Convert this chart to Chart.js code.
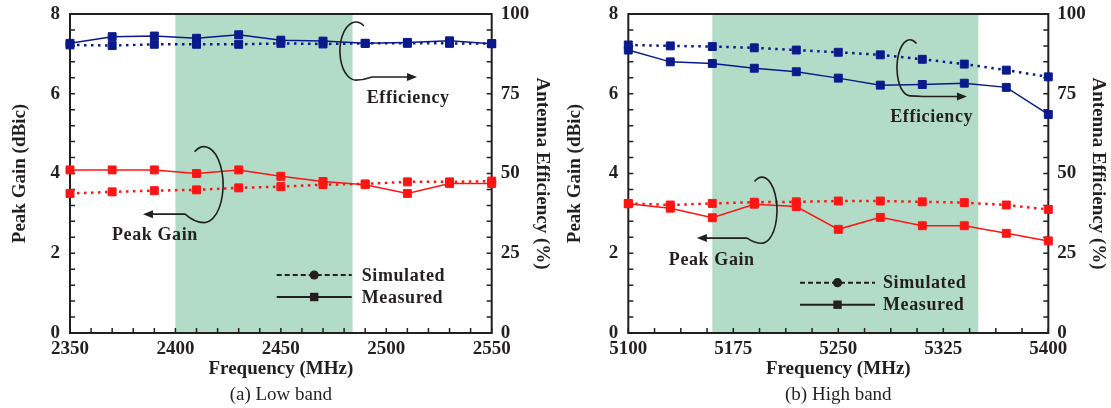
<!DOCTYPE html>
<html>
<head>
<meta charset="utf-8">
<script src="https://cdn.jsdelivr.net/npm/chart.js"></script>
<style>
  body { margin: 0; background: #fff; }
  #wrap { position: relative; width: 1111px; height: 408px; }
  canvas { position: absolute; top: 0; }
</style>
</head>
<body>
<div id="wrap">
  <canvas id="lowBand" width="555" height="408" style="left:0"></canvas>
  <canvas id="highBand" width="556" height="408" style="left:555px"></canvas>
</div>
<script>
// low band, 2350-2550 MHz
const lowFreq = [2350, 2370, 2390, 2410, 2430, 2450, 2470, 2490, 2510, 2530, 2550];
const lowGainSim = [3.50, 3.54, 3.57, 3.59, 3.64, 3.67, 3.72, 3.74, 3.79, 3.79, 3.81];
const lowGainMeas = [4.09, 4.09, 4.09, 4.00, 4.09, 3.93, 3.80, 3.72, 3.50, 3.75, 3.75];
const lowEffSim = [90.3, 90.1, 90.5, 90.5, 90.5, 90.8, 90.6, 90.8, 90.8, 90.8, 90.7];
const lowEffMeas = [90.8, 92.9, 93.1, 92.4, 93.5, 91.8, 91.5, 90.8, 91.1, 91.6, 90.7];
const lowTicks = [2350, 2400, 2450, 2500, 2550];
const lowBandEdges = [2400, 2484];

// high band, 5100-5400 MHz
const highFreq = [5100, 5130, 5160, 5190, 5220, 5250, 5280, 5310, 5340, 5370, 5400];
const highGainSim = [3.25, 3.21, 3.25, 3.28, 3.29, 3.31, 3.31, 3.29, 3.27, 3.21, 3.10];
const highGainMeas = [3.24, 3.13, 2.89, 3.23, 3.17, 2.60, 2.90, 2.69, 2.69, 2.50, 2.31];
const highEffSim = [90.3, 90.0, 89.8, 89.4, 88.7, 88.0, 87.2, 85.8, 84.3, 82.4, 80.3];
const highEffMeas = [88.7, 85.0, 84.5, 83.0, 81.9, 79.9, 77.7, 77.9, 78.3, 77.0, 68.5];
const highTicks = [5100, 5175, 5250, 5325, 5400];
const highBandEdges = [5160, 5350];

const gainTicks = [0, 2, 4, 6, 8];
const effTicks = [0, 25, 50, 75, 100];

const FONT = "'Liberation Serif', 'Times New Roman', serif";
const INK = '#231f20';
const BLUE = '#0a1a8a';
const RED = '#ff1414';
const SHADE = '#b3dcc8';

function series(freq, values) {
  return freq.map((f, i) => ({ x: f, y: values[i] }));
}

function trace(label, data, axis, color, dotted) {
  return {
    label: label,
    data: data,
    yAxisID: axis,
    borderColor: color,
    backgroundColor: color,
    borderWidth: dotted ? 2.5 : 1.5,
    borderDash: dotted ? [2.5, 4.5] : [],
    pointStyle: 'rect',
    pointRadius: 5.6,
    pointBorderWidth: 1,
    pointBackgroundColor: color,
    pointBorderColor: color,
    tension: 0,
    clip: false
  };
}

// green band + box with inward ticks, under the lines
const frame = {
  id: 'frame',
  beforeDatasetsDraw(chart, args, opts) {
    const { ctx, chartArea: a, scales } = chart;
    const x = scales.x, yl = scales.y, yr = scales.y2;
    ctx.save();
    ctx.fillStyle = SHADE;
    const b0 = x.getPixelForValue(opts.band[0]);
    const b1 = x.getPixelForValue(opts.band[1]);
    ctx.fillRect(b0, a.top, b1 - b0, a.bottom - a.top);

    ctx.strokeStyle = INK;
    ctx.lineWidth = 1.5;
    ctx.beginPath();
    for (let v = x.min; v <= x.max + 1e-6; v += opts.xMinor) {
      const px = x.getPixelForValue(v);
      ctx.moveTo(px, a.bottom);
      ctx.lineTo(px, a.bottom - 5);
    }
    for (let v = yl.min; v <= yl.max + 1e-6; v += 0.4) {
      const py = yl.getPixelForValue(v);
      ctx.moveTo(a.left, py);
      ctx.lineTo(a.left + 5, py);
    }
    for (let v = yr.min; v <= yr.max + 1e-6; v += 5) {
      const py = yr.getPixelForValue(v);
      ctx.moveTo(a.right, py);
      ctx.lineTo(a.right - 5, py);
    }
    ctx.stroke();
    ctx.lineWidth = 2;
    ctx.strokeRect(a.left, a.top, a.right - a.left, a.bottom - a.top);
    ctx.restore();
  }
};

function drawHook(ctx, chart, h) {
  const xs = chart.scales.x, ys = chart.scales.y;
  const cx = xs.getPixelForValue(h.x), cy = ys.getPixelForValue(h.y);
  const tx = xs.getPixelForValue(h.tipX), ty = ys.getPixelForValue(h.tipY);
  const d = h.dir;
  ctx.beginPath();
  if (d > 0) ctx.ellipse(cx, cy, h.rx, h.ry, 0, -Math.PI / 3, Math.PI / 2, true);
  else ctx.ellipse(cx, cy, h.rx, h.ry, 0, -2 * Math.PI / 3, Math.PI / 2, false);
  ctx.quadraticCurveTo(cx + d * h.rx * 0.5, cy + h.ry, cx + d * h.rx, ty);
  ctx.lineTo(tx - d * 8, ty);
  ctx.stroke();
  ctx.beginPath();
  ctx.moveTo(tx, ty);
  ctx.lineTo(tx - d * 10, ty - 4);
  ctx.lineTo(tx - d * 10, ty + 4);
  ctx.closePath();
  ctx.fill();
}

// curly arrows, their labels and the line-style key
const notes = {
  id: 'notes',
  afterDraw(chart, args, opts) {
    const { ctx, chartArea: a, scales } = chart;
    ctx.save();
    ctx.strokeStyle = INK;
    ctx.fillStyle = INK;
    ctx.lineWidth = 1.6;
    opts.hooks.forEach(h => drawHook(ctx, chart, h));

    ctx.font = 'bold 18px ' + FONT;
    ctx.letterSpacing = '0.6px';
    ctx.textAlign = 'center';
    ctx.textBaseline = 'middle';
    opts.texts.forEach(t => {
      ctx.fillText(t.text, scales.x.getPixelForValue(t.x), scales.y.getPixelForValue(t.y));
    });

    const k = opts.key;
    const x0 = a.left + k.x, x1 = x0 + 75, xm = (x0 + x1) / 2;
    const rows = [
      { text: 'Simulated', y: a.top + k.y, dash: [5, 3], marker: 'circle' },
      { text: 'Measured', y: a.top + k.y + 22, dash: [], marker: 'square' }
    ];
    ctx.textAlign = 'left';
    rows.forEach(r => {
      ctx.lineWidth = 2;
      ctx.setLineDash(r.dash);
      ctx.beginPath();
      ctx.moveTo(x0, r.y);
      ctx.lineTo(x1, r.y);
      ctx.stroke();
      ctx.setLineDash([]);
      ctx.beginPath();
      if (r.marker === 'circle') ctx.arc(xm, r.y, 4.6, 0, Math.PI * 2);
      else ctx.rect(xm - 4.2, r.y - 4.2, 8.4, 8.4);
      ctx.fill();
      ctx.fillText(r.text, x1 + k.gap, r.y + 1);
    });
    ctx.restore();
  }
};

function makeChart(id, cfg) {
  const tickFont = { family: FONT, size: 19, weight: 'bold' };
  const titleFont = { family: FONT, size: 19, weight: 'bold' };
  // the outer label padding is dropped so the box keeps its fixed place
  const noPad = s => { s.paddingTop = 0; s.paddingBottom = 0; };
  return new Chart(document.getElementById(id), {
    type: 'line',
    data: {
      datasets: [
        trace('Efficiency simulated', series(cfg.freq, cfg.effSim), 'y2', BLUE, true),
        trace('Efficiency measured', series(cfg.freq, cfg.effMeas), 'y2', BLUE, false),
        trace('Peak gain simulated', series(cfg.freq, cfg.gainSim), 'y', RED, true),
        trace('Peak gain measured', series(cfg.freq, cfg.gainMeas), 'y', RED, false)
      ]
    },
    options: {
      responsive: false,
      animation: false,
      layout: { padding: { top: 14, left: 0, right: 0, bottom: 0 } },
      plugins: {
        legend: { display: false },
        tooltip: { enabled: false },
        title: {
          display: true,
          position: 'bottom',
          fullSize: false,
          text: cfg.caption,
          color: INK,
          font: { family: FONT, size: 19, weight: 'normal' },
          padding: { top: 0, bottom: 1.2 }
        },
        frame: { band: cfg.band, xMinor: cfg.xMinor },
        notes: { hooks: cfg.hooks, texts: cfg.texts, key: cfg.key }
      },
      scales: {
        x: {
          type: 'linear',
          min: cfg.ticks[0],
          max: cfg.ticks[cfg.ticks.length - 1],
          afterBuildTicks: s => { s.ticks = cfg.ticks.map(v => ({ value: v })); },
          afterFit: s => { s.height = 51; },
          grid: { display: false, drawTicks: false },
          border: { display: false },
          ticks: { color: INK, font: tickFont, padding: 5, autoSkip: false, maxRotation: 0,
                   callback: v => String(v) },
          title: { display: true, text: 'Frequency (MHz)', color: INK, font: titleFont,
                   padding: { top: 0, bottom: 3.2 } }
        },
        y: {
          position: 'left',
          min: 0,
          max: 8,
          afterBuildTicks: s => { s.ticks = gainTicks.map(v => ({ value: v })); },
          afterFit: s => { s.width = cfg.leftW; noPad(s); },
          grid: { display: false, drawTicks: false },
          border: { display: false },
          ticks: { color: INK, font: tickFont, padding: 10 },
          title: { display: true, text: 'Peak Gain (dBic)', color: INK, font: titleFont,
                   padding: { top: 9, bottom: 0 } }
        },
        y2: {
          position: 'right',
          min: 0,
          max: 100,
          afterBuildTicks: s => { s.ticks = effTicks.map(v => ({ value: v })); },
          afterFit: s => { s.width = cfg.rightW; noPad(s); },
          grid: { display: false, drawTicks: false },
          border: { display: false },
          ticks: { color: INK, font: tickFont, padding: 9 },
          title: { display: true, text: 'Antenna Efficiency (%)', color: INK, font: titleFont,
                   padding: { top: 2, bottom: 0 } }
        }
      }
    },
    plugins: [frame, notes]
  });
}

makeChart('lowBand', {
  freq: lowFreq, gainSim: lowGainSim, gainMeas: lowGainMeas, effSim: lowEffSim, effMeas: lowEffMeas,
  ticks: lowTicks, band: lowBandEdges, xMinor: 10,
  caption: '(a) Low band',
  leftW: 70, rightW: 63.3,
  hooks: [
    { x: 2485.6, y: 7.07, rx: 16, ry: 29, dir: 1, tipX: 2514.6, tipY: 6.42 },
    { x: 2413.6, y: 3.72, rx: 19, ry: 38, dir: -1, tipX: 2384.6, tipY: 2.98 }
  ],
  texts: [
    { text: 'Efficiency', x: 2510.4, y: 5.89 },
    { text: 'Peak Gain', x: 2390.3, y: 2.46 }
  ],
  key: { x: 206.7, y: 261, gap: 10 }
});

makeChart('highBand', {
  freq: highFreq, gainSim: highGainSim, gainMeas: highGainMeas, effSim: highEffSim, effMeas: highEffMeas,
  ticks: highTicks, band: highBandEdges, xMinor: 18.75,
  caption: '(b) High band',
  leftW: 73.3, rightW: 62.7,
  hooks: [
    { x: 5301.2, y: 6.65, rx: 13, ry: 28, dir: 1, tipX: 5341.9, tipY: 5.93 },
    { x: 5195.5, y: 3.08, rx: 15, ry: 33, dir: -1, tipX: 5149, tipY: 2.38 }
  ],
  texts: [
    { text: 'Efficiency', x: 5316.7, y: 5.42 },
    { text: 'Peak Gain', x: 5159.6, y: 1.83 }
  ],
  key: { x: 171.7, y: 268.7, gap: 8 }
});
</script>
</body>
</html>
